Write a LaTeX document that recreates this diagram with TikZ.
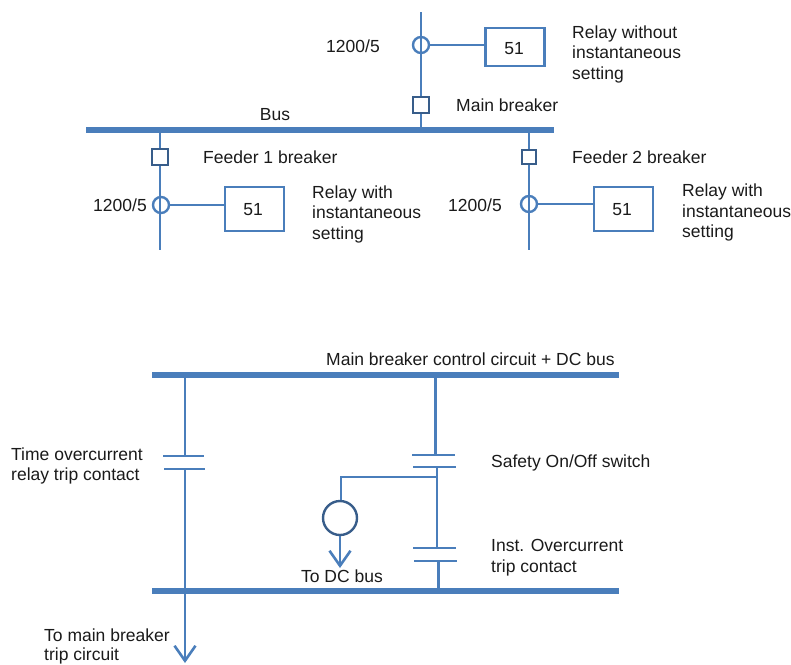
\documentclass[tikz,border=0pt]{standalone}
\usepackage{fontspec}
\setmainfont{Liberation Sans}
\usetikzlibrary{arrows.meta}
\definecolor{lineblue}{HTML}{4A7EBB}
\definecolor{darkblue}{HTML}{385D8A}
\definecolor{labeltext}{HTML}{1A1A1A}
\tikzset{
	busbar/.style={line width=6pt, color=lineblue},
	wire/.style={line width=2.6pt, color=lineblue},
	thinwire/.style={line width=2pt, color=lineblue},
	plate/.style={line width=2.4pt, color=lineblue},
	breaker/.style={draw=darkblue, line width=2.4pt, fill=white, minimum size=16pt, inner sep=0pt},
	ct/.style={circle, draw=lineblue, line width=2.4pt, minimum size=16pt, inner sep=0pt},
	relay/.style={draw=lineblue, line width=2.4pt, fill=white, minimum width=59pt, minimum height=44pt, inner sep=0pt},
	coil/.style={circle, draw=darkblue, line width=2.4pt, fill=white, minimum size=34pt, inner sep=0pt},
	label/.style={inner sep=0pt, align=left, text=labeltext, font=\fontsize{17.5}{20.5}\selectfont},
	openarrow/.style={-{Straight Barb[length=15pt, width=21pt, line width=2.6pt]}}
}
\begin{document}
\begin{tikzpicture}[x=1pt, y=-1pt]
	%%%%% ONE-LINE %%%%%
	\useasboundingbox (0, 0) rectangle (791, 664);

	\coordinate (busLeft) at (86, 130);
	\coordinate (busRight) at (554, 130);
	\draw[busbar] (busLeft) -- (busRight);
	\coordinate (mainTop) at (421, 12);
	\coordinate (mainBus) at (421, 130);
	\coordinate (feederOneBus) at (160, 130);
	\coordinate (feederOneEnd) at (160, 250);
	\coordinate (feederTwoBus) at (529, 130);
	\coordinate (feederTwoEnd) at (529, 250);
	\draw[wire] (mainTop) -- (mainBus);
	\draw[wire] (feederOneBus) -- (feederOneEnd);
	\draw[wire] (feederTwoBus) -- (feederTwoEnd);

	\node[breaker] (brkMain) at (421, 105) {};
	\node[breaker] (brkOne) at (160, 157) {};
	\node[breaker, minimum size=14pt] (brkTwo) at (529, 157) {};

	\node[ct] (ctMain) at (421, 45) {};
	\node[ct] (ctOne) at (161, 205) {};
	\node[ct] (ctTwo) at (529, 204) {};

	\node[relay, minimum height=38pt] (relayMain) at (515, 47) {};
	\node[relay] (relayOne) at (254.5, 209) {};
	\node[relay] (relayTwo) at (623.5, 209) {};
	\draw[thinwire] (ctMain) -- (ctMain -| relayMain.west);
	\draw[thinwire] (ctOne) -- (ctOne -| relayOne.west);
	\draw[thinwire] (ctTwo) -- (ctTwo -| relayTwo.west);

	\node[label] (codeMain) at (514, 49) {51};
	\node[label] (codeOne) at (253, 210) {51};
	\node[label] (codeTwo) at (622, 210) {51};
	\node[label] (ratioMain) at (353, 46) {1200/5};
	\node[label] (ratioOne) at (120, 205) {1200/5};
	\node[label] (ratioTwo) at (475, 205) {1200/5};
	\node[label] (busLabel) at (275, 114.5) {Bus};
	\node[label, anchor=west] (mainLabel) at (456, 105) {Main breaker};
	\node[label, anchor=west] (oneLabel) at (203, 157) {Feeder 1 breaker};
	\node[label, anchor=west] (twoLabel) at (572, 157) {Feeder 2 breaker};
	\node[label, anchor=west] (relayMainLabel) at (572, 54) {Relay without\\instantaneous\\setting};
	\node[label, anchor=west] (relayOneLabel) at (312, 214) {Relay with\\instantaneous\\setting};
	\node[label, anchor=west] (relayTwoLabel) at (682, 212.5) {Relay with\\instantaneous\\setting};

	%%%%% CONTROL CIRCUIT %%%%%
	\coordinate (posLeft) at (152, 375);
	\coordinate (posRight) at (619, 375);
	\coordinate (negLeft) at (152, 591);
	\coordinate (negRight) at (619, 591);
	\draw[busbar] (posLeft) -- (posRight);
	\draw[busbar] (negLeft) -- (negRight);

	\coordinate (timeTop) at (185, 375);
	\coordinate (timeUpper) at (185, 456);
	\coordinate (timeLower) at (185, 469);
	\coordinate (tripEnd) at (185, 663);
	\draw[thinwire] (timeTop) -- (timeUpper);
	\draw[wire, openarrow] (timeLower) -- (tripEnd);
	\draw[plate] (163, 456) -- (204, 456);
	\draw[plate] (164, 469) -- (205, 469);

	\coordinate (safetyTop) at (435, 375);
	\coordinate (safetyUpper) at (435, 455);
	\coordinate (safetyLower) at (437, 467);
	\coordinate (instUpper) at (437, 548);
	\coordinate (instLower) at (438, 561);
	\coordinate (instBus) at (438, 591);
	\coordinate (tapRight) at (437, 477);
	\coordinate (tapLeft) at (341, 477);
	\draw[wire, line width=3pt] (safetyTop) -- (safetyUpper);
	\draw[wire] (safetyLower) -- (instUpper);
	\draw[wire, line width=3pt] (instLower) -- (instBus);
	\draw[plate] (412, 455) -- (455, 455);
	\draw[plate] (413, 467) -- (456, 467);
	\draw[plate] (413, 548) -- (456, 548);
	\draw[plate] (414, 561) -- (457, 561);

	\node[coil] (coil) at (340, 518) {};
	\coordinate (coilEnd) at (340, 568);
	\draw[wire] (tapRight) -- (tapLeft) -- (tapLeft |- coil.north);
	\draw[wire, openarrow] (coil) -- (coilEnd);

	\node[label, anchor=west] (posLabel) at (326, 359) {Main breaker control circuit + DC bus};
	\node[label] (dcLabel) at (342, 576) {To DC bus};
	\node[label, anchor=west] (timeLabel) at (11, 466) {Time overcurrent\\relay trip contact};
	\node[label, anchor=west] (safetyLabel) at (491, 463) {Safety On/Off switch};
	\node[label, anchor=west] (instLabel) at (491, 557.5) {Inst. Overcurrent\\trip contact};
	\node[label, anchor=west, font=\fontsize{17.5}{19}\selectfont] (tripLabel) at (44, 646.5) {To main breaker\\trip circuit};
	%%%%% END %%%%%
\end{tikzpicture}
\end{document}
